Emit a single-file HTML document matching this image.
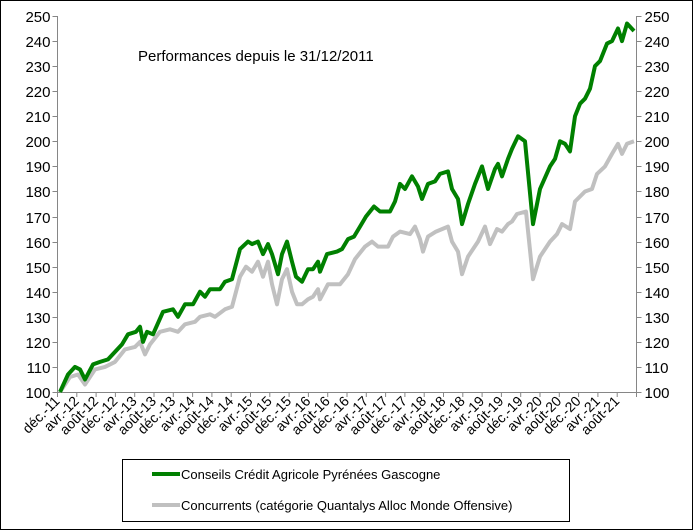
<!DOCTYPE html>
<html><head><meta charset="utf-8"><style>
html,body{margin:0;padding:0;background:#fff}
svg{display:block;font-family:"Liberation Sans",Arial,sans-serif}
</style></head><body>
<svg id="s" width="694" height="531" xmlns="http://www.w3.org/2000/svg">
<rect x="0.5" y="0.5" width="692" height="529" fill="#fff" stroke="#000" stroke-width="1"/>
<g id="ax" stroke="#868686" stroke-width="1"></g>
<g id="lbl" font-size="15" fill="#000"></g>
<text x="138" y="61" font-size="15">Performances depuis le 31/12/2011</text>
<polyline id="grey" fill="none" stroke="#c0c0c0" stroke-width="4" stroke-linejoin="round"/>
<polyline id="green" fill="none" stroke="#008000" stroke-width="4" stroke-linejoin="round"/>
<rect x="122.5" y="459.5" width="447" height="62" fill="none" stroke="#000"/>
<line x1="152" y1="474" x2="180" y2="474" stroke="#008000" stroke-width="4"/>
<line x1="152" y1="505" x2="180" y2="505" stroke="#c0c0c0" stroke-width="4"/>
<text x="181" y="479" font-size="13">Conseils Crédit Agricole Pyrénées Gascogne</text>
<text x="181" y="510" font-size="13">Concurrents (catégorie Quantalys Alloc Monde Offensive)</text>
</svg>
<script>
var NS="http://www.w3.org/2000/svg";
var L=57.5,R=636.5,T=16,B=392;
function Y(v){return B-(v-100)*(B-T)/150;}
var ax=document.getElementById('ax'),lb=document.getElementById('lbl');
function ln(x1,y1,x2,y2){var e=document.createElementNS(NS,'line');e.setAttribute('x1',x1);e.setAttribute('y1',y1);e.setAttribute('x2',x2);e.setAttribute('y2',y2);ax.appendChild(e);}
ln(L,T,L,B);ln(R,T,R,B);ln(L,B+0.5,R,B+0.5);
for(var v=100;v<=250;v+=10){var y=Math.round(Y(v))+0.5;ln(L-5,y,L,y);ln(R,y,R+5,y);
var t=document.createElementNS(NS,'text');t.setAttribute('x',L-7);t.setAttribute('y',y+5.5);t.setAttribute('text-anchor','end');t.textContent=v;lb.appendChild(t);
t=document.createElementNS(NS,'text');t.setAttribute('x',R+8);t.setAttribute('y',y+5.5);t.textContent=v;lb.appendChild(t);}
var mo=['déc.','avr.','août'];
var step=(R-L)/120;
for(var i=0;i<=30;i++){var x=L+i*4*step;ln(x,B,x,B+5);}
for(var i=0;i<30;i++){var x=L+i*4*step;var yr=11+Math.floor((i+2)/3);
var t=document.createElementNS(NS,'text');t.setAttribute('font-size','14');t.setAttribute('text-anchor','end');
t.setAttribute('transform','translate('+(x+3)+','+(B+10)+') rotate(-45)');t.textContent=mo[i%3]+'-'+yr;lb.appendChild(t);}
var g=[60,100,68,107,75,110,80,109,85,105,93,111,100,112,108,113,115,116,122,119,128,123,136,124,140,126,143,120,147,124,153,123,163,132,173,133,178,130,185,135,193,135,200,140,205,138,210,141,220,141,225,144,232,145,240,157,248,160,252,159,258,160,263,155,268,159,272,155,278,147,282,155,287,160,292,152,296,146,302,144,308,149,313,149,318,152,320,148,327,155,337,156,342,157,348,161,354,162,360,166,366,170,374,174,380,172,390,172,395,176,400,183,405,181,412,186,418,182,422,177,428,183,435,184,440,187,448,188,452,181,458,177,462,167,468,175,475,183,482,190,488,181,495,189,498,191,502,186,508,193,512,197,518,202,525,200,533,167,540,181,550,190,555,193,560,200,565,199,570,196,575,210,580,215,585,217,590,221,595,230,600,232,607,239,612,240,618,245,622,240,627,247,634,244];
var c=[60,100,70,106,78,107,85,103,95,109,105,110,115,112,125,117,135,118,140,120,145,115,150,119,160,124,170,125,178,124,185,127,195,128,200,130,210,131,215,130,225,133,232,134,240,146,246,150,252,148,258,152,263,146,268,152,272,143,277,135,282,145,287,149,292,140,297,135,302,135,308,137,313,138,318,141,320,137,328,143,340,143,348,147,355,153,365,158,372,160,378,158,388,158,393,162,400,164,410,163,415,166,420,161,423,156,428,162,436,164,448,166,452,160,458,156,462,147,468,154,478,160,485,166,490,159,497,165,502,164,508,167,512,168,517,171,526,172,533,145,540,154,550,160,557,163,562,167,570,165,575,176,585,180,592,181,597,187,605,190,612,195,618,199,622,195,627,199,634,200];
function pts(a){var s=[];for(var i=0;i<a.length;i+=2)s.push(a[i]+','+Y(a[i+1]).toFixed(1));return s.join(' ');}
document.getElementById('green').setAttribute('points',pts(g));
document.getElementById('grey').setAttribute('points',pts(c));
</script>
</body></html>
